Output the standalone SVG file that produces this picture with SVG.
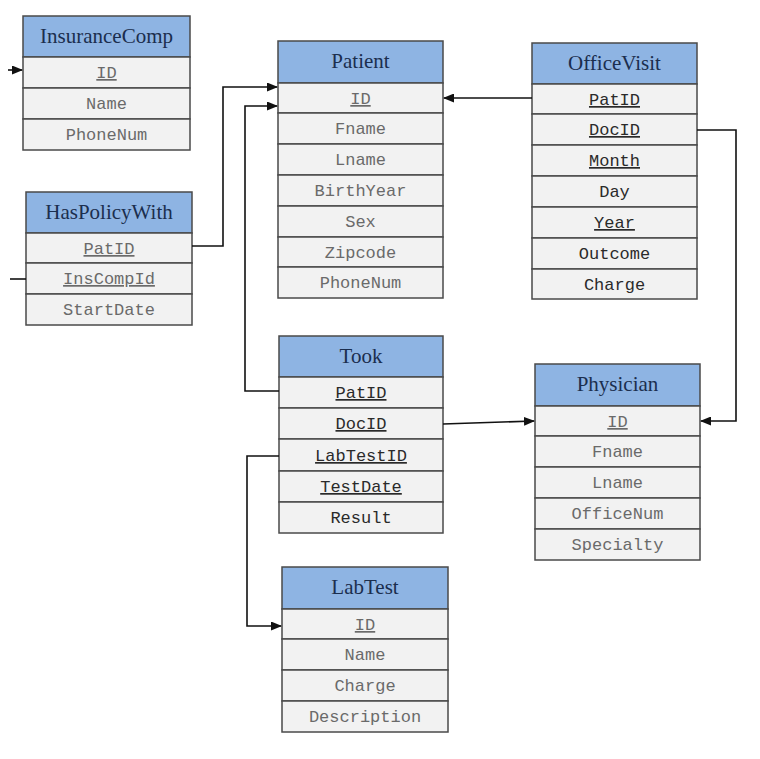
<svg xmlns="http://www.w3.org/2000/svg" width="760" height="759" viewBox="0 0 760 759">
<defs>
<marker id="arr" markerUnits="userSpaceOnUse" markerWidth="11" markerHeight="9" refX="10" refY="4.5" orient="auto">
<path d="M0,0 L11,4.5 L0,9 z" fill="#111"/>
</marker>
<style>
.hd{fill:#8eb4e3;stroke:#4a4a4a;stroke-width:1.5}
.rw{fill:#f2f2f2;stroke:#4a4a4a;stroke-width:1.5}
.tt{font-family:"Liberation Serif","DejaVu Serif",serif;font-size:21px;fill:#1b2e4e;text-anchor:middle}
.f{font-family:"Liberation Mono","DejaVu Sans Mono",monospace;font-size:17px;fill:#6a6a6a;text-anchor:middle}
.fd{fill:#2a2a2a}
.u{text-decoration:underline}
.c{fill:none;stroke:#111;stroke-width:1.6}
</style>
</defs>
<rect width="760" height="759" fill="#fff"/>

<g id="InsuranceComp">
<rect class="hd" x="23" y="16" width="167" height="41"/>
<rect class="rw" x="23" y="57" width="167" height="31"/>
<rect class="rw" x="23" y="88" width="167" height="31"/>
<rect class="rw" x="23" y="119" width="167" height="31"/>
<text class="tt" x="106.5" y="43">InsuranceComp</text>
<text class="f u" x="106.5" y="78">ID</text>
<text class="f" x="106.5" y="109">Name</text>
<text class="f" x="106.5" y="140">PhoneNum</text>
</g>

<g id="HasPolicyWith">
<rect class="hd" x="26" y="192" width="166" height="41"/>
<rect class="rw" x="26" y="233" width="166" height="30"/>
<rect class="rw" x="26" y="263" width="166" height="31"/>
<rect class="rw" x="26" y="294" width="166" height="31"/>
<text class="tt" x="109" y="219">HasPolicyWith</text>
<text class="f u" x="109" y="254">PatID</text>
<text class="f u" x="109" y="284">InsCompId</text>
<text class="f" x="109" y="315">StartDate</text>
</g>

<g id="Patient">
<rect class="hd" x="278" y="41" width="165" height="42"/>
<rect class="rw" x="278" y="83" width="165" height="30"/>
<rect class="rw" x="278" y="113" width="165" height="31"/>
<rect class="rw" x="278" y="144" width="165" height="31"/>
<rect class="rw" x="278" y="175" width="165" height="31"/>
<rect class="rw" x="278" y="206" width="165" height="31"/>
<rect class="rw" x="278" y="237" width="165" height="30"/>
<rect class="rw" x="278" y="267" width="165" height="31"/>
<text class="tt" x="360.5" y="68">Patient</text>
<text class="f u" x="360.5" y="104">ID</text>
<text class="f" x="360.5" y="134">Fname</text>
<text class="f" x="360.5" y="165">Lname</text>
<text class="f" x="360.5" y="196">BirthYear</text>
<text class="f" x="360.5" y="227">Sex</text>
<text class="f" x="360.5" y="258">Zipcode</text>
<text class="f" x="360.5" y="288">PhoneNum</text>
</g>

<g id="OfficeVisit">
<rect class="hd" x="532" y="43" width="165" height="41"/>
<rect class="rw" x="532" y="84" width="165" height="30"/>
<rect class="rw" x="532" y="114" width="165" height="31"/>
<rect class="rw" x="532" y="145" width="165" height="31"/>
<rect class="rw" x="532" y="176" width="165" height="31"/>
<rect class="rw" x="532" y="207" width="165" height="31"/>
<rect class="rw" x="532" y="238" width="165" height="31"/>
<rect class="rw" x="532" y="269" width="165" height="30"/>
<text class="tt" x="614.5" y="70">OfficeVisit</text>
<text class="f fd u" x="614.5" y="105">PatID</text>
<text class="f fd u" x="614.5" y="135">DocID</text>
<text class="f fd u" x="614.5" y="166">Month</text>
<text class="f fd" x="614.5" y="197">Day</text>
<text class="f fd u" x="614.5" y="228">Year</text>
<text class="f fd" x="614.5" y="259">Outcome</text>
<text class="f fd" x="614.5" y="290">Charge</text>
</g>

<g id="Took">
<rect class="hd" x="279" y="336" width="164" height="41"/>
<rect class="rw" x="279" y="377" width="164" height="31"/>
<rect class="rw" x="279" y="408" width="164" height="31"/>
<rect class="rw" x="279" y="439" width="164" height="32"/>
<rect class="rw" x="279" y="471" width="164" height="31"/>
<rect class="rw" x="279" y="502" width="164" height="31"/>
<text class="tt" x="361" y="363">Took</text>
<text class="f fd u" x="361" y="398">PatID</text>
<text class="f fd u" x="361" y="429">DocID</text>
<text class="f fd u" x="361" y="461">LabTestID</text>
<text class="f fd u" x="361" y="492">TestDate</text>
<text class="f fd" x="361" y="523">Result</text>
</g>

<g id="Physician">
<rect class="hd" x="535" y="364" width="165" height="42"/>
<rect class="rw" x="535" y="406" width="165" height="30"/>
<rect class="rw" x="535" y="436" width="165" height="31"/>
<rect class="rw" x="535" y="467" width="165" height="31"/>
<rect class="rw" x="535" y="498" width="165" height="31"/>
<rect class="rw" x="535" y="529" width="165" height="31"/>
<text class="tt" x="617.5" y="391">Physician</text>
<text class="f u" x="617.5" y="427">ID</text>
<text class="f" x="617.5" y="457">Fname</text>
<text class="f" x="617.5" y="488">Lname</text>
<text class="f" x="617.5" y="519">OfficeNum</text>
<text class="f" x="617.5" y="550">Specialty</text>
</g>

<g id="LabTest">
<rect class="hd" x="282" y="567" width="166" height="42"/>
<rect class="rw" x="282" y="609" width="166" height="30"/>
<rect class="rw" x="282" y="639" width="166" height="31"/>
<rect class="rw" x="282" y="670" width="166" height="31"/>
<rect class="rw" x="282" y="701" width="166" height="31"/>
<text class="tt" x="365" y="594">LabTest</text>
<text class="f u" x="365" y="630">ID</text>
<text class="f" x="365" y="660">Name</text>
<text class="f" x="365" y="691">Charge</text>
<text class="f" x="365" y="722">Description</text>
</g>

<g id="connectors">
<path class="c" d="M8 70 H22" marker-end="url(#arr)"/>
<path class="c" d="M10 279 H26"/>
<path class="c" d="M192 246 H223 V87 H277" marker-end="url(#arr)"/>
<path class="c" d="M279 391 H245 V106 H277" marker-end="url(#arr)"/>
<path class="c" d="M532 98 H444" marker-end="url(#arr)"/>
<path class="c" d="M697 130 H736 V421 H701" marker-end="url(#arr)"/>
<path class="c" d="M443 424 L534 421" marker-end="url(#arr)"/>
<path class="c" d="M279 456 H247 V626 H281" marker-end="url(#arr)"/>
</g>
</svg>
